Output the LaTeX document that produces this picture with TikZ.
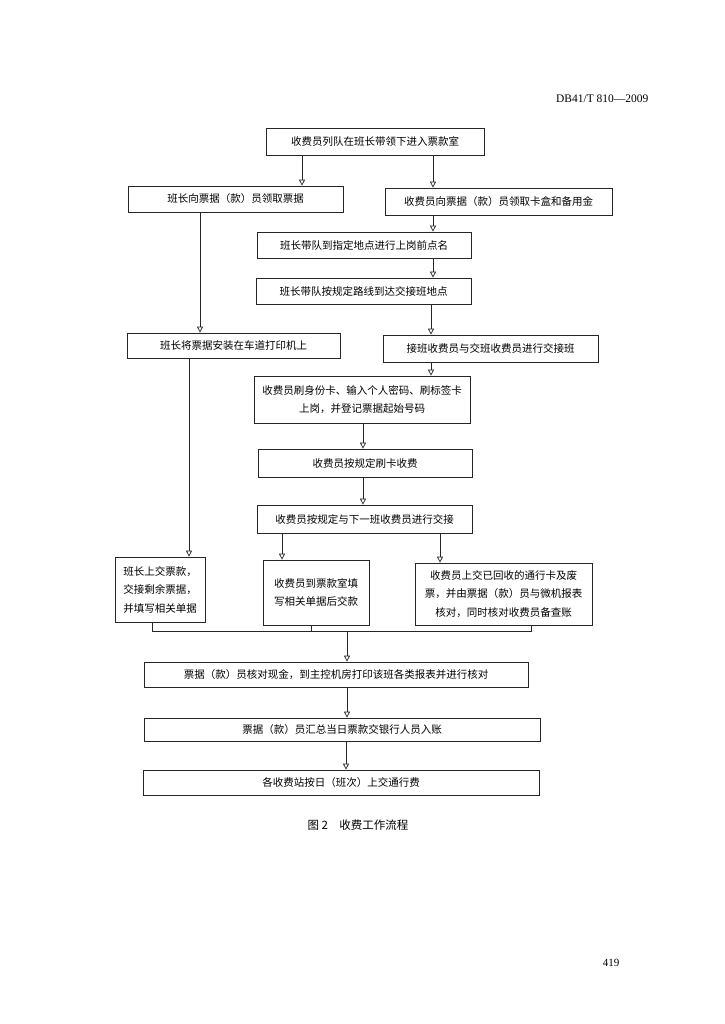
\documentclass[tikz,border=0pt]{standalone}
\usepackage{fontspec}
\setmainfont{Liberation Serif}
\newfontfamily\cjk{Noto Sans CJK SC}
\usetikzlibrary{arrows.meta}
\begin{document}
\begin{tikzpicture}[x=1pt,y=-1pt,
  box/.style={draw=black!85, line width=0.7pt, inner sep=0pt, align=center,
    font=\cjk\fontsize{10.5}{18.5}\selectfont},
  link/.style={draw=black!85, line width=0.7pt},
  arr/.style={link, -{Triangle[open,width=6pt,length=6pt]}}]
\useasboundingbox[fill=white] (0,0) rectangle (724,1024);

\node[font=\fontsize{11.5}{13}\selectfont, anchor=east] (hdr) at (652,99) {DB41/T 810—2009};

\node[box, minimum width=218pt, minimum height=27pt] (b1) at (375,141.5) {收费员列队在班长带领下进入票款室};
\node[box, minimum width=215pt, minimum height=26pt] (l2) at (235.5,199) {班长向票据（款）员领取票据};
\node[box, minimum width=227pt, minimum height=27pt] (r2) at (498.5,201.5) {收费员向票据（款）员领取卡盒和备用金};
\node[box, minimum width=214pt, minimum height=26pt] (b3) at (364,245) {班长带队到指定地点进行上岗前点名};
\node[box, minimum width=215pt, minimum height=26pt] (b4) at (363.5,291) {班长带队按规定路线到达交接班地点};
\node[box, minimum width=213pt, minimum height=25pt] (l5) at (233.5,345.5) {班长将票据安装在车道打印机上};
\node[box, minimum width=215pt, minimum height=27pt] (r5) at (490.5,348.5) {接班收费员与交班收费员进行交接班};
\node[box, minimum width=216pt, minimum height=47pt] (b6) at (362,399.5) {收费员刷身份卡、输入个人密码、刷标签卡\\上岗，并登记票据起始号码};
\node[box, minimum width=214pt, minimum height=28pt] (b7) at (365,463) {收费员按规定刷卡收费};
\node[box, minimum width=215pt, minimum height=28pt] (b8) at (364.5,519) {收费员按规定与下一班收费员进行交接};
\node[box, minimum width=90pt, minimum height=65pt] (t1) at (160,589.5) {班长上交票款，\\交接剩余票据，\\并填写相关单据};
\node[box, minimum width=106pt, minimum height=65pt] (t2) at (316,592.5) {收费员到票款室填\\写相关单据后交款};
\node[box, minimum width=177pt, minimum height=62pt] (t3) at (503.5,594) {收费员上交已回收的通行卡及废\\票，并由票据（款）员与微机报表\\核对，同时核对收费员备查账};
\node[box, minimum width=384pt, minimum height=25pt] (b9) at (336,674.5) {票据（款）员核对现金，到主控机房打印该班各类报表并进行核对};
\node[box, minimum width=396pt, minimum height=23pt] (b10) at (342,729.5) {票据（款）员汇总当日票款交银行人员入账};
\node[box, minimum width=396pt, minimum height=25pt] (b11) at (341,782.5) {各收费站按日（班次）上交通行费};

\node[font=\cjk\fontsize{11.5}{13}\selectfont] (cap) at (358,825) {图 2\hspace{1em}收费工作流程};
\node[font=\fontsize{11}{12}\selectfont] (pg) at (611,963) {419};

\coordinate (xa) at (302,0);
\coordinate (xb) at (433,0);
\coordinate (xc) at (431,0);
\coordinate (xd) at (200,0);
\coordinate (xe) at (189,0);
\coordinate (xf) at (363,0);
\coordinate (xg) at (282,0);
\coordinate (xh) at (440,0);
\coordinate (m1) at (152,0);
\coordinate (m2) at (311,0);
\coordinate (m3) at (531,0);
\coordinate (mj) at (347,631);
\coordinate (xi) at (346,0);

\draw[arr] (b1.south -| xa) -- (l2.north -| xa);
\draw[arr] (b1.south -| xb) -- (r2.north -| xb);
\draw[arr] (r2.south -| xb) -- (b3.north -| xb);
\draw[arr] (b3.south -| xb) -- (b4.north -| xb);
\draw[arr] (b4.south -| xc) -- (r5.north -| xc);
\draw[arr] (l2.south -| xd) -- (l5.north -| xd);
\draw[arr] (l5.south -| xe) -- (t1.north -| xe);
\draw[arr] (r5.south -| xc) -- (b6.north -| xc);
\draw[arr] (b6.south -| xf) -- (b7.north -| xf);
\draw[arr] (b7.south -| xf) -- (b8.north -| xf);
\draw[arr] (b8.south -| xg) -- (t2.north -| xg);
\draw[arr] (b8.south -| xh) -- (t3.north -| xh);

\draw[link] (t1.south -| m1) -- (m1 |- mj) -- (m3 |- mj) -- (t3.south -| m3);
\draw[link] (t2.south -| m2) -- (m2 |- mj);
\draw[arr] (mj) -- (b9.north -| mj);
\draw[arr] (b9.south -| mj) -- (b10.north -| mj);
\draw[arr] (b10.south -| xi) -- (b11.north -| xi);
\end{tikzpicture}
\end{document}
